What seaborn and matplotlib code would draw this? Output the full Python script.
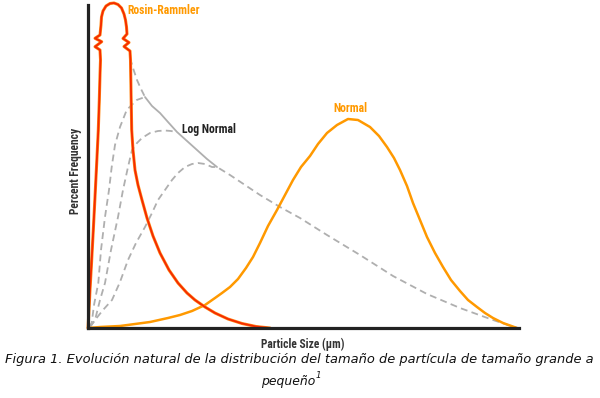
import matplotlib
matplotlib.use("Agg")
import matplotlib.pyplot as plt
from matplotlib import font_manager
import seaborn as sns

# ---- data (x = particle size units, y = frequency units) ----
normal_x = [0, 12, 32, 47, 62, 80, 92, 104, 117, 127, 134, 142, 150, 158, 165, 172, 180, 189, 197, 205,
            213, 222, 230, 239, 249, 260, 270, 282, 291, 299, 306, 312, 319, 325, 332, 339, 347, 355,
            363, 372, 380, 389, 397, 405, 415, 429]
normal_y = [0, 1, 2, 4, 6, 10, 13, 17, 23, 30, 35, 41, 49, 60, 71, 85, 102, 118, 133, 148,
            161, 172, 184, 195, 203, 209, 208, 201, 192, 181, 170, 158, 142, 125, 108, 91, 75, 61,
            48, 37, 28, 21, 15, 10, 5, 0]

rosin_x = [0, 1, 2, 3.5, 5.3, 7, 8.7, 10.3, 11.3, 12, 12.5, 12, 7, 13.7, 7, 12, 13, 13.5, 15, 18, 22, 26,
           30, 33.5, 36, 37.5, 38.5, 39, 35, 41, 36, 42, 42.5, 43, 43.7, 45, 47, 50, 54, 59, 65, 72, 81,
           90, 99, 107, 117, 127, 140, 154, 168, 182]
rosin_y = [0, 18, 38, 64.5, 98, 131, 165, 198, 228, 253, 268, 278, 281.3, 286.3, 289.7, 293, 303, 311,
           317, 322, 324.5, 325, 323.5, 320, 314, 308, 301, 294, 289.5, 285.5, 281.5, 277, 268, 238, 198,
           178, 158, 143, 128, 110, 92, 75, 58, 45, 35, 28, 21, 15, 9, 4.5, 1.5, 0]

lognorm_top_x = [42, 45, 49, 53, 57]
lognorm_top_y = [270, 260, 248, 239, 231]

lognorm_env_x = [57, 64, 72, 80, 89, 99, 109, 119, 129]
lognorm_env_y = [231, 222, 215, 206, 196, 187, 178, 169, 161]

lognorm1_x = [1, 3.7, 6, 10.3, 13, 17, 21, 23.7, 27, 32, 38.7, 48.7, 57]
lognorm1_y = [1, 5, 23, 45, 78, 111, 138, 161, 183, 201, 218, 228, 231]

lognorm2_x = [2, 7, 12, 17, 23, 30, 35, 40, 44, 49, 54, 62, 70, 77, 83, 88]
lognorm2_y = [1, 8, 28, 45, 78, 111, 138, 161, 178, 185, 190, 195, 197, 197.5, 197, 196]

lognorm3_x = [2, 7, 15, 24, 32, 40, 48, 57, 64, 70, 77, 84, 90, 97, 104, 110, 117, 124, 129,
              142, 157, 172, 192, 212, 239, 272, 305, 339, 372, 405, 429]
lognorm3_y = [1, 8, 18, 28, 46, 68, 85, 101, 115, 128, 138, 148, 155, 161, 164, 165, 164, 161, 161,
              153, 143, 133, 121, 110, 93, 73, 52, 34, 20, 8, 0]

labels = {"rosin": "Rosin-Rammler", "log": "Log Normal", "normal": "Normal"}
x_label = "Particle Size (\u00b5m)"
y_label = "Percent Frequency"
caption1 = "Figura 1. Evolución natural de la distribución del tamaño de partícula de tamaño grande a"
caption2 = "pequeño"
caption_sup = "1"

# ---- style ----
sns.set_style("white")
plt.rcParams["font.family"] = ["DejaVu Sans"]

# pick a condensed bold family if one is installed
names = {f.name for f in font_manager.fontManager.ttflist}
cond = None
for cand in ["Liberation Sans Narrow", "DejaVu Sans Condensed", "Roboto Condensed",
             "Open Sans Condensed", "Noto Sans Condensed"]:
    if cand in names:
        cond = cand
        break
cond_stretch = any(("DejaVu Sans" == f.name and f.stretch in ("condensed", "semi-condensed", 87.5, 75))
                   for f in font_manager.fontManager.ttflist)
if cond is not None:
    lab_font = dict(family=[cond, "Liberation Sans"], weight="bold")
    lab_size, ax_size = 8.5, 8.3
elif cond_stretch:
    lab_font = dict(family=["DejaVu Sans"], weight="bold", stretch="condensed")
    lab_size, ax_size = 7.8, 7.4
else:
    lab_font = dict(family=["Liberation Sans", "DejaVu Sans"], weight="bold")
    lab_size, ax_size = 7.0, 6.8

ORANGE = "#FF9900"
RED = "#F52A00"
RED_EDGE = "#FF8A1A"
GRAY = "#AFAFAF"

fig = plt.figure(figsize=(6.0, 3.98), dpi=100)
ax = fig.add_axes([88 / 600, 70 / 398, 431 / 600, 323 / 398])
ax.set_xlim(0, 431)
ax.set_ylim(0, 323)

dash = (0, (3.8, 2.4))
common = dict(ax=ax, sort=False, estimator=None, legend=False)

sns.lineplot(x=lognorm1_x, y=lognorm1_y, color=GRAY, lw=1.3, linestyle=dash, **common)
sns.lineplot(x=lognorm2_x, y=lognorm2_y, color=GRAY, lw=1.3, linestyle=dash, **common)
sns.lineplot(x=lognorm3_x, y=lognorm3_y, color=GRAY, lw=1.3, linestyle=dash, **common)
sns.lineplot(x=lognorm_top_x, y=lognorm_top_y, color=GRAY, lw=1.3, linestyle=dash, **common)
sns.lineplot(x=lognorm_env_x, y=lognorm_env_y, color=GRAY, lw=1.3, **common)

sns.lineplot(x=normal_x, y=normal_y, color=ORANGE, lw=1.8, **common)
sns.lineplot(x=rosin_x, y=rosin_y, color=RED_EDGE, lw=2.2, **common)
sns.lineplot(x=rosin_x, y=rosin_y, color=RED, lw=1.3, **common)
for ln in ax.lines:
    ln.set_clip_on(False)
    ln.set_solid_joinstyle("round")

for side in ["top", "right"]:
    ax.spines[side].set_visible(False)
for side in ["left", "bottom"]:
    ax.spines[side].set_color("#222222")
    ax.spines[side].set_linewidth(2.3)
ax.set_xticks([])
ax.set_yticks([])
ax.set_xlabel("")
ax.set_ylabel("")

ax.text(164 - 88, 328 - 10, labels["rosin"], color=ORANGE, fontsize=lab_size, ha="center", va="center", **lab_font)
ax.text(209 - 88, 328 - 130, labels["log"], color="#222222", fontsize=lab_size, ha="center", va="center", **lab_font)
ax.text(350 - 88, 328 - 109, labels["normal"], color=ORANGE, fontsize=lab_size, ha="center", va="center", **lab_font)

fig.text(303 / 600, 1 - 344 / 398, x_label, color="#333333", fontsize=ax_size, ha="center", va="center", **lab_font)
fig.text(75 / 600, 1 - 171 / 398, y_label, color="#333333", fontsize=ax_size, ha="center", va="center",
         rotation=90, **lab_font)

fig.text(299 / 600, 1 - 360 / 398, caption1, fontsize=9.35, style="italic", ha="center", va="center", color="#111111")
fig.text(288 / 600, 1 - 381 / 398, caption2, fontsize=8.9, style="italic", ha="center", va="center", color="#111111")
fig.text(316 / 600, 1 - 376 / 398, caption_sup, fontsize=6.2, style="italic", ha="left", va="center", color="#111111")

fig.savefig("out.png", dpi=100)
